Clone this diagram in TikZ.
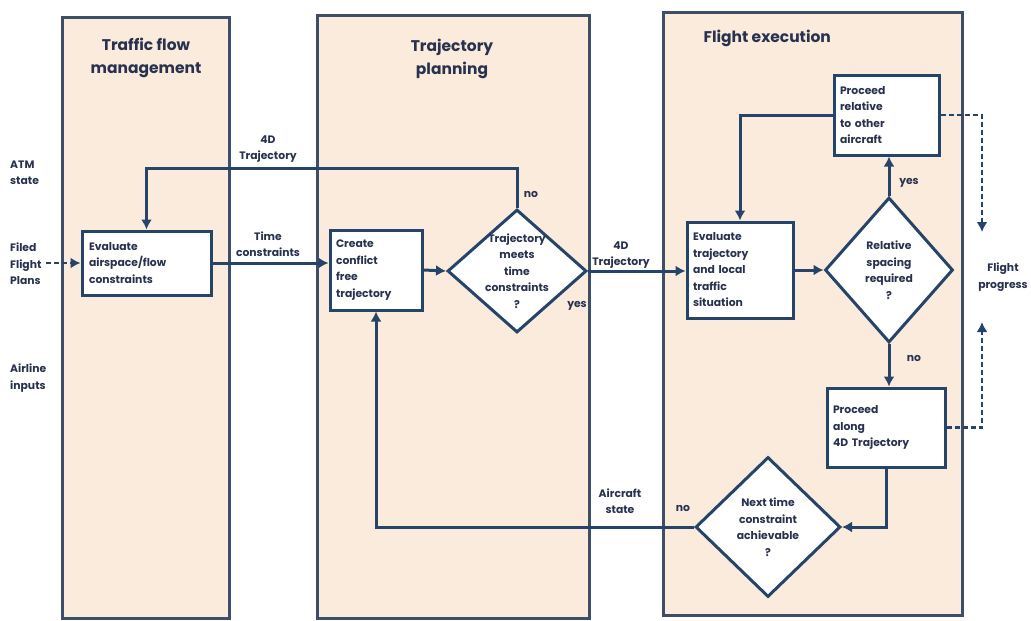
\documentclass[tikz,border=0pt]{standalone}
\usepackage{fontspec}
\setmainfont{Poppins}
\usetikzlibrary{shapes.geometric,arrows.meta,calc}
\definecolor{panelfill}{HTML}{FBEBDC}
\definecolor{ink}{HTML}{26446A}
\definecolor{pink}{HTML}{3E4E68}
\definecolor{txt}{HTML}{28324E}
\begin{document}
\begin{tikzpicture}[x=1pt,y=-1pt,
  font=\bfseries\fontsize{10.8}{16.5}\selectfont,
  every node/.style={text=txt},
  panel/.style={draw=pink,line width=3pt,fill=panelfill,inner sep=0pt},
  title/.style={font=\bfseries\fontsize{15.5}{23}\selectfont,align=center},
  proc/.style={draw=ink,line width=3pt,fill=white,align=left,inner sep=6pt,anchor=center},
  dia/.style={draw=ink,line width=3pt,fill=white,diamond,inner sep=0pt},
  lbl/.style={align=center,inner sep=1pt},
  arr/.style={draw=ink,line width=3pt,-{Latex[length=10pt,width=11pt]}},
  dline/.style={draw=ink,line width=2.8pt,dash pattern=on 5pt off 3pt,-{Latex[length=10pt,width=11pt]}},
  ln/.style={draw=ink,line width=3pt}
]
\useasboundingbox (0,0) rectangle (1031,621);
\fill[white] (0,0) rectangle (1031,621);

% panels
\node[panel,minimum width=167pt,minimum height=601pt] (p1) at (145.5,317.5) {};
\node[panel,minimum width=272pt,minimum height=603pt] (p2) at (453,316.5) {};
\node[panel,minimum width=299pt,minimum height=603pt] (p3) at (812.5,313.5) {};

\node[title] (t1) at (146,58) {Traffic flow\\management};
\node[title] (t2) at (452,59) {Trajectory\\planning};
\node[title,anchor=west] (t3) at (700,38) {Flight execution};

% process boxes
\node[proc,minimum width=129pt,minimum height=64pt,text width=115pt] (eval1) at (146.5,263) {Evaluate\\airspace/flow\\constraints};
\node[proc,minimum width=92pt,minimum height=80pt,text width=80pt] (create) at (376,270) {Create\\conflict\\free\\trajectory};
\node[proc,minimum width=106pt,minimum height=96pt,text width=94pt] (evtraj) at (740,270) {Evaluate\\trajectory\\and local\\traffic\\situation};
\node[proc,minimum width=105pt,minimum height=80pt,text width=93pt] (prel) at (886.5,115) {Proceed\\relative\\to other\\aircraft};
\node[proc,minimum width=118pt,minimum height=79pt,text width=106pt] (palong) at (886,427.5) {Proceed\\along\\4D Trajectory};

% decisions
\node[dia,minimum width=139pt,minimum height=123pt] (dia1) at (517,271) {};
\node[lbl] (dia1t) at (dia1.center) {Trajectory\\meets\\time\\constraints\\?};
\node[dia,minimum width=128pt,minimum height=145pt] (dia2) at (889,270) {};
\node[lbl] (dia2t) at (dia2.center) {Relative\\spacing\\required\\?};
\node[dia,minimum width=145pt,minimum height=140pt] (dia3) at (768,527) {};
\node[lbl] (dia3t) at (dia3.center) {Next time\\constraint\\achievable\\?};

% outside labels
\node[align=left,anchor=west,inner sep=0pt] (atm) at (10,173) {ATM\\state};
\node[align=left,anchor=west,inner sep=0pt] (filed) at (10,264) {Filed\\Flight\\Plans};
\node[align=left,anchor=west,inner sep=0pt] (airl) at (10,378) {Airline\\inputs};
\node[align=center,inner sep=0pt] (fprog) at (1003,277) {Flight\\progress};

% connector labels
\node[lbl] (l4d1) at (268,149) {4D\\Trajectory};
\node[lbl] (ltc) at (268,244) {Time\\constraints};
\node[lbl] (lno1) at (531,194) {no};
\node[lbl] (lyes1) at (577,306) {yes};
\node[lbl] (l4d2) at (621,255) {4D\\Trajectory};
\node[lbl] (lyes2) at (909,183) {yes};
\node[lbl] (lno2) at (914,358) {no};
\node[lbl] (lac) at (620,501) {Aircraft\\state};
\node[lbl] (lno3) at (683,508) {no};

% coordinates
\coordinate (k1) at (517,168);
\coordinate (fin) at (46,263);
\coordinate (k2) at (982,115);
\coordinate (k2e) at (982,232);
\coordinate (k3) at (982,427.5);
\coordinate (k3e) at (982,322);

% connectors
\draw[dline] (fin) -- (fin -| eval1.west);
\draw[arr] (dia1.north) -- (k1) -| (eval1.north);
\draw[arr] (eval1.east) -- (eval1.east -| create.west);
\draw[arr] (create.east) -- (dia1.west);
\draw[arr] (dia1.east) -- (dia1.east -| evtraj.west);
\draw[arr] (evtraj.east) -- (dia2.west);
\draw[arr] (dia2.north) -- (dia2.north |- prel.south);
\draw[arr] (prel.west) -| (evtraj.north);
\draw[dline] (prel.east) -- (k2) -- (k2e);
\draw[arr] (dia2.south) -- (dia2.south |- palong.north);
\draw[dline] (palong.east) -- (k3) -- (k3e);
\draw[arr] (palong.south) |- (dia3.east);
\draw[arr] (dia3.west) -| (create.south);
\end{tikzpicture}
\end{document}
